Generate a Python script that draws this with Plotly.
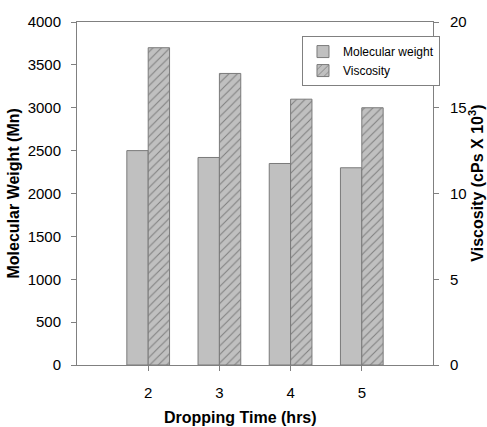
import plotly.graph_objects as go

times = [2, 3, 4, 5]
mol_weight = [2500, 2420, 2350, 2300]
viscosity = [18.5, 17.0, 15.5, 15.0]
y1_ticks = [0, 500, 1000, 1500, 2000, 2500, 3000, 3500, 4000]
y2_ticks = [0, 5, 10, 15, 20]

TICKFONT = dict(family="Liberation Sans, Arial", size=15, color="#000")
TITLEFONT = dict(family="Liberation Sans, Arial", size=16, color="#000")
AX = "#808080"

fig = go.Figure()
fig.add_trace(go.Bar(
    x=times, y=mol_weight, name="Molecular weight", yaxis="y",
    width=0.3, offset=-0.3,
    marker=dict(color="#c0c0c0", line=dict(color="#7a7a7a", width=1)),
))
fig.add_trace(go.Bar(
    x=times, y=viscosity, name="Viscosity", yaxis="y2",
    width=0.3, offset=0,
    marker=dict(color="#c0c0c0", line=dict(color="#7a7a7a", width=1),
                pattern=dict(shape="/", fgcolor="#404040", bgcolor="#c0c0c0",
                             size=6, solidity=0.18)),
))

fig.update_layout(
    width=487, height=427,
    margin=dict(l=77, r=54, t=22, b=62, autoexpand=False),
    paper_bgcolor="white", plot_bgcolor="white",
    barmode="overlay",
    showlegend=True,
    legend=dict(x=0.632, y=0.959, xanchor="left", yanchor="top",
                bgcolor="white", bordercolor="#808080", borderwidth=1,
                font=dict(family="Liberation Sans, Arial", size=12, color="#000"),
                tracegroupgap=0, itemwidth=30),
    xaxis=dict(range=[1, 6], tickvals=times, ticks="outside", ticklen=5,
               tickcolor=AX, showline=True, linecolor=AX, linewidth=1, mirror=True,
               showgrid=False, zeroline=False, tickfont=TICKFONT, ticklabelstandoff=9,
               automargin=False),
    yaxis=dict(range=[0, 4000], tickvals=y1_ticks, ticks="outside", ticklen=5,
               tickcolor=AX, showline=True, linecolor=AX, linewidth=1,
               showgrid=False, zeroline=False, tickfont=TICKFONT, ticklabelstandoff=7,
               automargin=False),
    yaxis2=dict(range=[0, 20], tickvals=y2_ticks, ticks="outside", ticklen=5,
                tickcolor=AX, showline=True, linecolor=AX, linewidth=1,
                overlaying="y", side="right", anchor="x",
                showgrid=False, zeroline=False, tickfont=TICKFONT, ticklabelstandoff=8,
                automargin=False),
    annotations=[
        dict(text="<b>Dropping Time (hrs)</b>", xref="paper", yref="paper",
             x=0.46, y=-0.152, xanchor="center", yanchor="middle", showarrow=False,
             font=TITLEFONT),
        dict(text="<b>Molecular Weight (Mn)</b>", xref="paper", yref="paper",
             x=-0.177, y=0.5, xanchor="center", yanchor="middle", showarrow=False,
             textangle=-90, font=TITLEFONT),
        dict(text="<b>Viscosity (cPs X 10<sup>3</sup>)</b>", xref="paper", yref="paper",
             x=1.122, y=0.53, xanchor="center", yanchor="middle", showarrow=False,
             textangle=-90, font=TITLEFONT),
    ],
)

fig.write_html("out.html")
